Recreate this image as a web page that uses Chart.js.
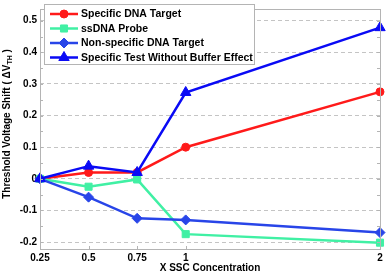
<!DOCTYPE html>
<html>
<head>
<meta charset="utf-8">
<script src="https://cdn.jsdelivr.net/npm/chart.js@4/dist/chart.umd.min.js"></script>
<style>
html, body { margin: 0; padding: 0; background: #fff; }
#wrap { width: 387px; height: 275px; }
</style>
</head>
<body>
<div id="wrap"><canvas id="chart"></canvas></div>
<script>
// Data
const concentrations = [0.25, 0.5, 0.75, 1, 2];
const specificTarget = [0, 0.02, 0.02, 0.1, 0.275];
const ssDnaProbe = [0, -0.025, -0.002, -0.175, -0.202];
const nonSpecificTarget = [0, -0.058, -0.125, -0.13, -0.17];
const noBufferEffect = [0, 0.04, 0.02, 0.273, 0.478];
const seriesNames = ['Specific DNA Target', 'ssDNA Probe', 'Non-specific DNA Target', 'Specific Test Without Buffer Effect'];
const xTickValues = [0.25, 0.5, 0.75, 1, 2];
const yTickValues = [-0.2, -0.1, 0, 0.1, 0.2, 0.3, 0.4, 0.5];
const yMinorTicks = [-0.2, -0.15, -0.1, -0.05, 0, 0.05, 0.1, 0.15, 0.2, 0.25, 0.3, 0.35, 0.4, 0.45, 0.5];

const FONT = '"Liberation Sans", Arial, sans-serif';
const BOX = '#b4b4b4';

function points(values) {
    return concentrations.map((x, i) => ({ x, y: values[i] }));
}

function series(i, values, color, style, radius, order) {
    return {
        label: seriesNames[i],
        data: points(values),
        borderColor: color,
        backgroundColor: color,
        pointBackgroundColor: color,
        pointBorderColor: color,
        borderWidth: 2.5,
        pointStyle: style,
        pointRadius: radius,
        pointBorderWidth: 1,
        showLine: true,
        clip: false,
        order
    };
}

// MATLAB-like box, inside tick marks, legend and y title with subscript
const decorations = {
    id: 'decorations',
    afterDatasetsDraw(chart) {
        const { ctx, chartArea: a, scales } = chart;
        ctx.save();
        ctx.strokeStyle = BOX;
        ctx.lineWidth = 1;
        ctx.strokeRect(a.left + 0.5, a.top + 0.5, a.right - a.left, a.bottom - a.top);
        ctx.beginPath();
        yMinorTicks.forEach(v => {
            const y = Math.round(scales.y.getPixelForValue(v)) + 0.5;
            ctx.moveTo(a.left, y); ctx.lineTo(a.left + 3, y);
            ctx.moveTo(a.right, y); ctx.lineTo(a.right - 3, y);
        });
        xTickValues.forEach(v => {
            const x = Math.round(scales.x.getPixelForValue(v)) + 0.5;
            ctx.moveTo(x, a.bottom); ctx.lineTo(x, a.bottom - 3);
            ctx.moveTo(x, a.top); ctx.lineTo(x, a.top + 3);
        });
        ctx.stroke();

        // legend
        const lx = 44, ly = 4, lw = 210, lh = 60;
        ctx.fillStyle = '#fff';
        ctx.fillRect(lx, ly, lw, lh);
        ctx.strokeStyle = BOX;
        ctx.strokeRect(lx + 0.5, ly + 0.5, lw, lh);
        const rows = [14, 28.5, 43, 57.5];
        chart.data.datasets.forEach((ds, i) => {
            const y = rows[i];
            ctx.strokeStyle = ds.borderColor;
            ctx.lineWidth = ds.borderWidth;
            ctx.beginPath();
            ctx.moveTo(50, y); ctx.lineTo(78, y);
            ctx.stroke();
            ctx.fillStyle = ds.pointBackgroundColor;
            ctx.lineWidth = 1;
            Chart.helpers.drawPoint(ctx, {
                pointStyle: ds.pointStyle, radius: ds.pointRadius,
                borderWidth: 1, rotation: 0
            }, 64, y);
            ctx.fillStyle = '#000';
            ctx.font = 'bold 10.5px ' + FONT;
            ctx.textBaseline = 'middle';
            ctx.textAlign = 'left';
            ctx.fillText(ds.label, 81, y + 0.5);
        });

        // x title
        ctx.fillStyle = '#000';
        ctx.font = 'bold 10px ' + FONT;
        ctx.textAlign = 'center';
        ctx.textBaseline = 'middle';
        ctx.fillText('X SSC Concentration', (a.left + a.right) / 2, 268);

        // y title with subscript
        const main = 'Threshold Voltage Shift ( \u0394V';
        const sub = 'TH';
        const tail = ' )';
        ctx.translate(7, 124);
        ctx.rotate(-Math.PI / 2);
        ctx.font = 'bold 10px ' + FONT;
        const w1 = ctx.measureText(main).width;
        const w3 = ctx.measureText(tail).width;
        ctx.font = 'bold 7px ' + FONT;
        const w2 = ctx.measureText(sub).width;
        let x = -(w1 + w2 + w3) / 2;
        ctx.textAlign = 'left';
        ctx.font = 'bold 10px ' + FONT;
        ctx.fillText(main, x, 0);
        x += w1;
        ctx.font = 'bold 7px ' + FONT;
        ctx.fillText(sub, x, 3);
        x += w2;
        ctx.font = 'bold 10px ' + FONT;
        ctx.fillText(tail, x, 0);
        ctx.restore();
    }
};

new Chart(document.getElementById('chart'), {
    type: 'scatter',
    data: {
        datasets: [
            series(0, specificTarget, '#ff1a1a', 'circle', 4, 4),
            series(1, ssDnaProbe, '#40f0a4', 'rect', 5, 3),
            series(2, nonSpecificTarget, '#2845e8', 'rectRot', 5, 2),
            series(3, noBufferEffect, '#0a0af5', 'triangle', 6, 1)
        ]
    },
    options: {
        responsive: true,
        maintainAspectRatio: false,
        animation: false,
        layout: { padding: { left: 0, right: 7, top: 3, bottom: 0 } },
        plugins: { legend: { display: false }, tooltip: { enabled: false } },
        scales: {
            x: {
                type: 'linear',
                min: 0.25,
                max: 2,
                afterBuildTicks: s => { s.ticks = xTickValues.map(v => ({ value: v })); },
                afterFit: s => { s.height = 26; },
                grid: { display: false, drawTicks: false },
                border: { display: false },
                ticks: {
                    color: '#000',
                    font: { family: FONT, size: 10, weight: 'bold' },
                    padding: 3,
                    maxRotation: 0,
                    autoSkip: false,
                    callback: v => String(v)
                }
            },
            y: {
                min: -0.222,
                max: 0.537,
                afterBuildTicks: s => { s.ticks = yTickValues.map(v => ({ value: v })); },
                afterFit: s => { s.width = 40; },
                grid: { color: '#c4c4c4', lineWidth: 1, drawTicks: false },
                border: { display: false, dash: [4, 3] },
                ticks: {
                    color: '#000',
                    font: { family: FONT, size: 10, weight: 'bold' },
                    padding: 3,
                    callback: v => String(Math.round(v * 10) / 10)
                }
            }
        }
    },
    plugins: [decorations]
});
</script>
</body>
</html>
